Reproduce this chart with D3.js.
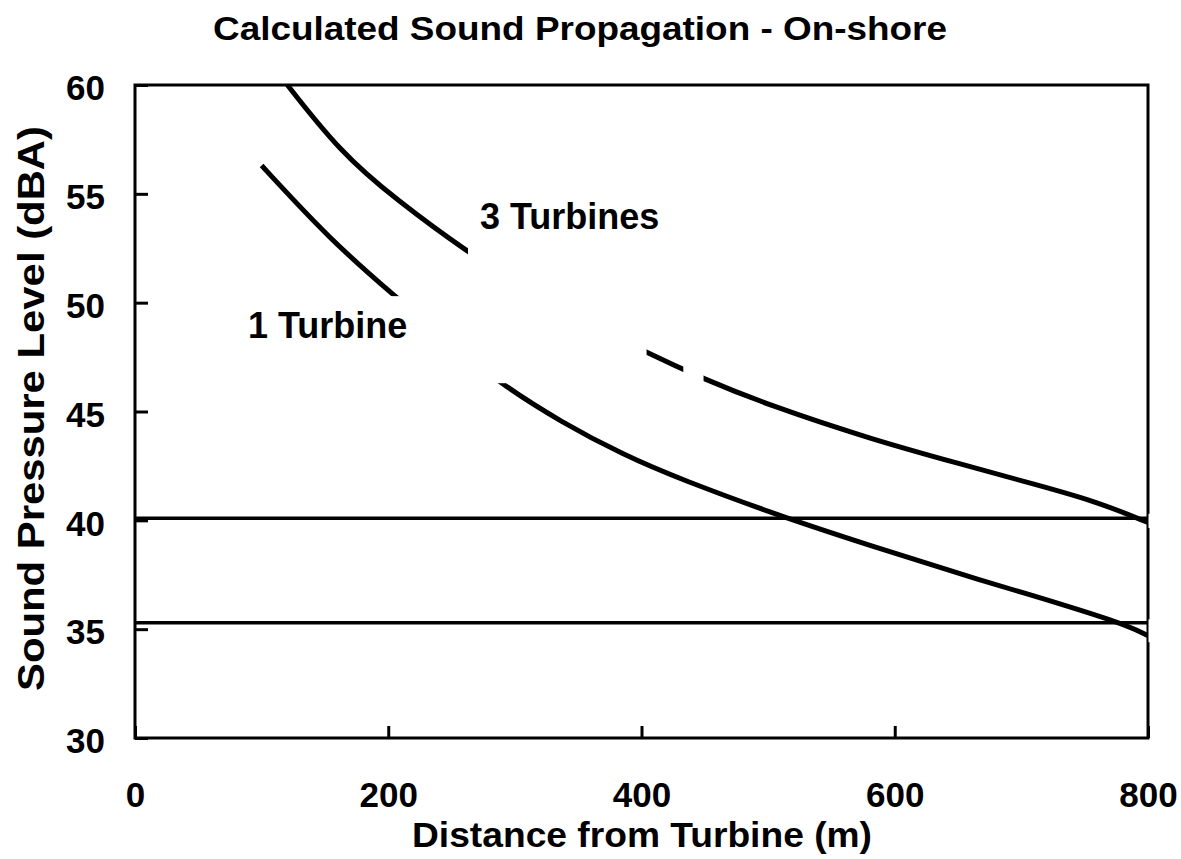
<!DOCTYPE html>
<html>
<head>
<meta charset="utf-8">
<script src="https://cdn.jsdelivr.net/npm/d3@7"></script>
<style>
    body { margin: 0; background: #fff; }
    svg { display: block; }
    text { font-family: "Liberation Sans", Arial, sans-serif; font-weight: bold; fill: #000; }
</style>
</head>
<body>
<svg id="chart"></svg>
<script>
// distance from turbine (m) and sound pressure level (dBA)
var oneTurbineDist = [100, 154, 204, 250, 288, 337, 386, 430, 514, 583, 648, 700, 779, 800];
var oneTurbineLevel = [56.3, 52.9, 50.35, 48.1, 46.3, 44.5, 43.0, 41.9, 40.1, 38.8, 37.6, 36.7, 35.3, 34.7];

var threeTurbineDist = [115, 162, 207, 263, 300, 350, 404, 449, 500, 583, 648, 714, 760, 800];
var threeTurbineLevel = [60.4, 56.9, 54.7, 52.3, 51.0, 49.3, 47.7, 46.5, 45.3, 43.7, 42.65, 41.6, 40.85, 39.9];

// horizontal limit lines
var limitLevels = [40.1, 35.3];

var xTicks = [0, 200, 400, 600, 800];
var yTicks = [30, 35, 40, 45, 50, 55, 60];

var seriesNames = ["1 Turbine", "3 Turbines"];

var W = 1181, H = 859;
var margin = { top: 85, right: 33, bottom: 121, left: 135 };

var svg = d3.select("#chart")
    .attr("width", W)
    .attr("height", H);

svg.append("rect")
    .attr("width", W)
    .attr("height", H)
    .attr("fill", "#fff");

var xScale = d3.scaleLinear()
    .domain([0, 800])
    .range([margin.left, W - margin.right]);

var yScale = d3.scaleLinear()
    .domain([30, 60])
    .range([H - margin.bottom, margin.top]);

function zipSeries(xs, ys) {
    return xs.map(function (d, i) { return { x: d, y: ys[i] }; });
}

var series = [
    zipSeries(oneTurbineDist, oneTurbineLevel),
    zipSeries(threeTurbineDist, threeTurbineLevel)
];

svg.append("clipPath")
    .attr("id", "plotClip")
    .append("rect")
    .attr("x", xScale(0))
    .attr("y", yScale(60))
    .attr("width", xScale(800) - xScale(0))
    .attr("height", yScale(30) - yScale(60));

// limit lines
svg.append("g")
    .selectAll("line")
    .data(limitLevels)
    .enter()
    .append("line")
    .attr("x1", xScale(0))
    .attr("x2", xScale(800))
    .attr("y1", function (d) { return yScale(d); })
    .attr("y2", function (d) { return yScale(d); })
    .attr("stroke", "#000")
    .attr("stroke-width", 3.5);

var lineGen = d3.line()
    .x(function (d) { return xScale(d.x); })
    .y(function (d) { return yScale(d.y); })
    .curve(d3.curveBasis);

svg.append("g")
    .attr("clip-path", "url(#plotClip)")
    .selectAll("path")
    .data(series)
    .enter()
    .append("path")
    .attr("d", lineGen)
    .attr("fill", "none")
    .attr("stroke", "#000")
    .attr("stroke-width", 5);

// white knock-outs that cut the curves in the original (data units)
var gapX0 = [190, 263, 433, 800.4, 800.4];
var gapX1 = [300, 404, 449, 803, 803];
var gapY0 = [46.3, 47.0, 46.1, 39.65, 34.4];
var gapY1 = [50.3, 53.5, 47.3, 40.3, 35.45];

// frame
svg.append("rect")
    .attr("x", xScale(0))
    .attr("y", yScale(60))
    .attr("width", xScale(800) - xScale(0))
    .attr("height", yScale(30) - yScale(60))
    .attr("fill", "none")
    .attr("stroke", "#000")
    .attr("stroke-width", 3);

// inward ticks
var xAxisGen = d3.axisBottom(xScale)
    .tickValues(xTicks)
    .tickSizeInner(-12)
    .tickSizeOuter(0)
    .tickPadding(44);

var yAxisGen = d3.axisLeft(yScale)
    .tickValues(yTicks)
    .tickSizeInner(-13)
    .tickSizeOuter(0)
    .tickPadding(30);

var xAxis = svg.append("g")
    .attr("transform", "translate(0," + yScale(30) + ")")
    .call(xAxisGen);

var yAxis = svg.append("g")
    .attr("transform", "translate(" + xScale(0) + ",0)")
    .call(yAxisGen);

[xAxis, yAxis].forEach(function (g) {
    g.select(".domain").remove();
    g.selectAll(".tick line").attr("stroke", "#000").attr("stroke-width", 3);
    g.selectAll(".tick text")
        .attr("font-size", 35)
        .attr("font-family", "Liberation Sans, Arial, sans-serif")
        .attr("font-weight", "bold")
        .attr("fill", "#000");
});

xAxis.selectAll(".tick text").attr("dy", "0.72em");
yAxis.selectAll(".tick text").attr("dy", "0.42em");

svg.append("g")
    .selectAll("rect")
    .data(gapX0)
    .enter()
    .append("rect")
    .attr("x", function (d) { return xScale(d); })
    .attr("width", function (d, i) { return xScale(gapX1[i]) - xScale(d); })
    .attr("y", function (d, i) { return yScale(gapY1[i]); })
    .attr("height", function (d, i) { return yScale(gapY0[i]) - yScale(gapY1[i]); })
    .attr("fill", "#fff");

// series labels, anchored in data units
var labelX = [89.2, 272.4];
var labelY = [48.38, 53.39];

svg.append("g")
    .selectAll("text")
    .data(seriesNames)
    .enter()
    .append("text")
    .attr("x", function (d, i) { return xScale(labelX[i]); })
    .attr("y", function (d, i) { return yScale(labelY[i]); })
    .attr("font-size", 36)
    .text(function (d) { return d; });

// titles
svg.append("text")
    .attr("x", 580)
    .attr("y", 40)
    .attr("text-anchor", "middle")
    .attr("font-size", 34)
    .attr("textLength", 734)
    .attr("lengthAdjust", "spacingAndGlyphs")
    .text("Calculated Sound Propagation - On-shore");

svg.append("text")
    .attr("x", 642)
    .attr("y", 847)
    .attr("text-anchor", "middle")
    .attr("font-size", 35)
    .attr("textLength", 460)
    .attr("lengthAdjust", "spacingAndGlyphs")
    .text("Distance from Turbine (m)");

svg.append("text")
    .attr("transform", "translate(44," + (yScale(45) - 3) + ") rotate(-90)")
    .attr("text-anchor", "middle")
    .attr("font-size", 36)
    .attr("textLength", 565)
    .attr("lengthAdjust", "spacingAndGlyphs")
    .text("Sound Pressure Level (dBA)");
</script>
</body>
</html>
